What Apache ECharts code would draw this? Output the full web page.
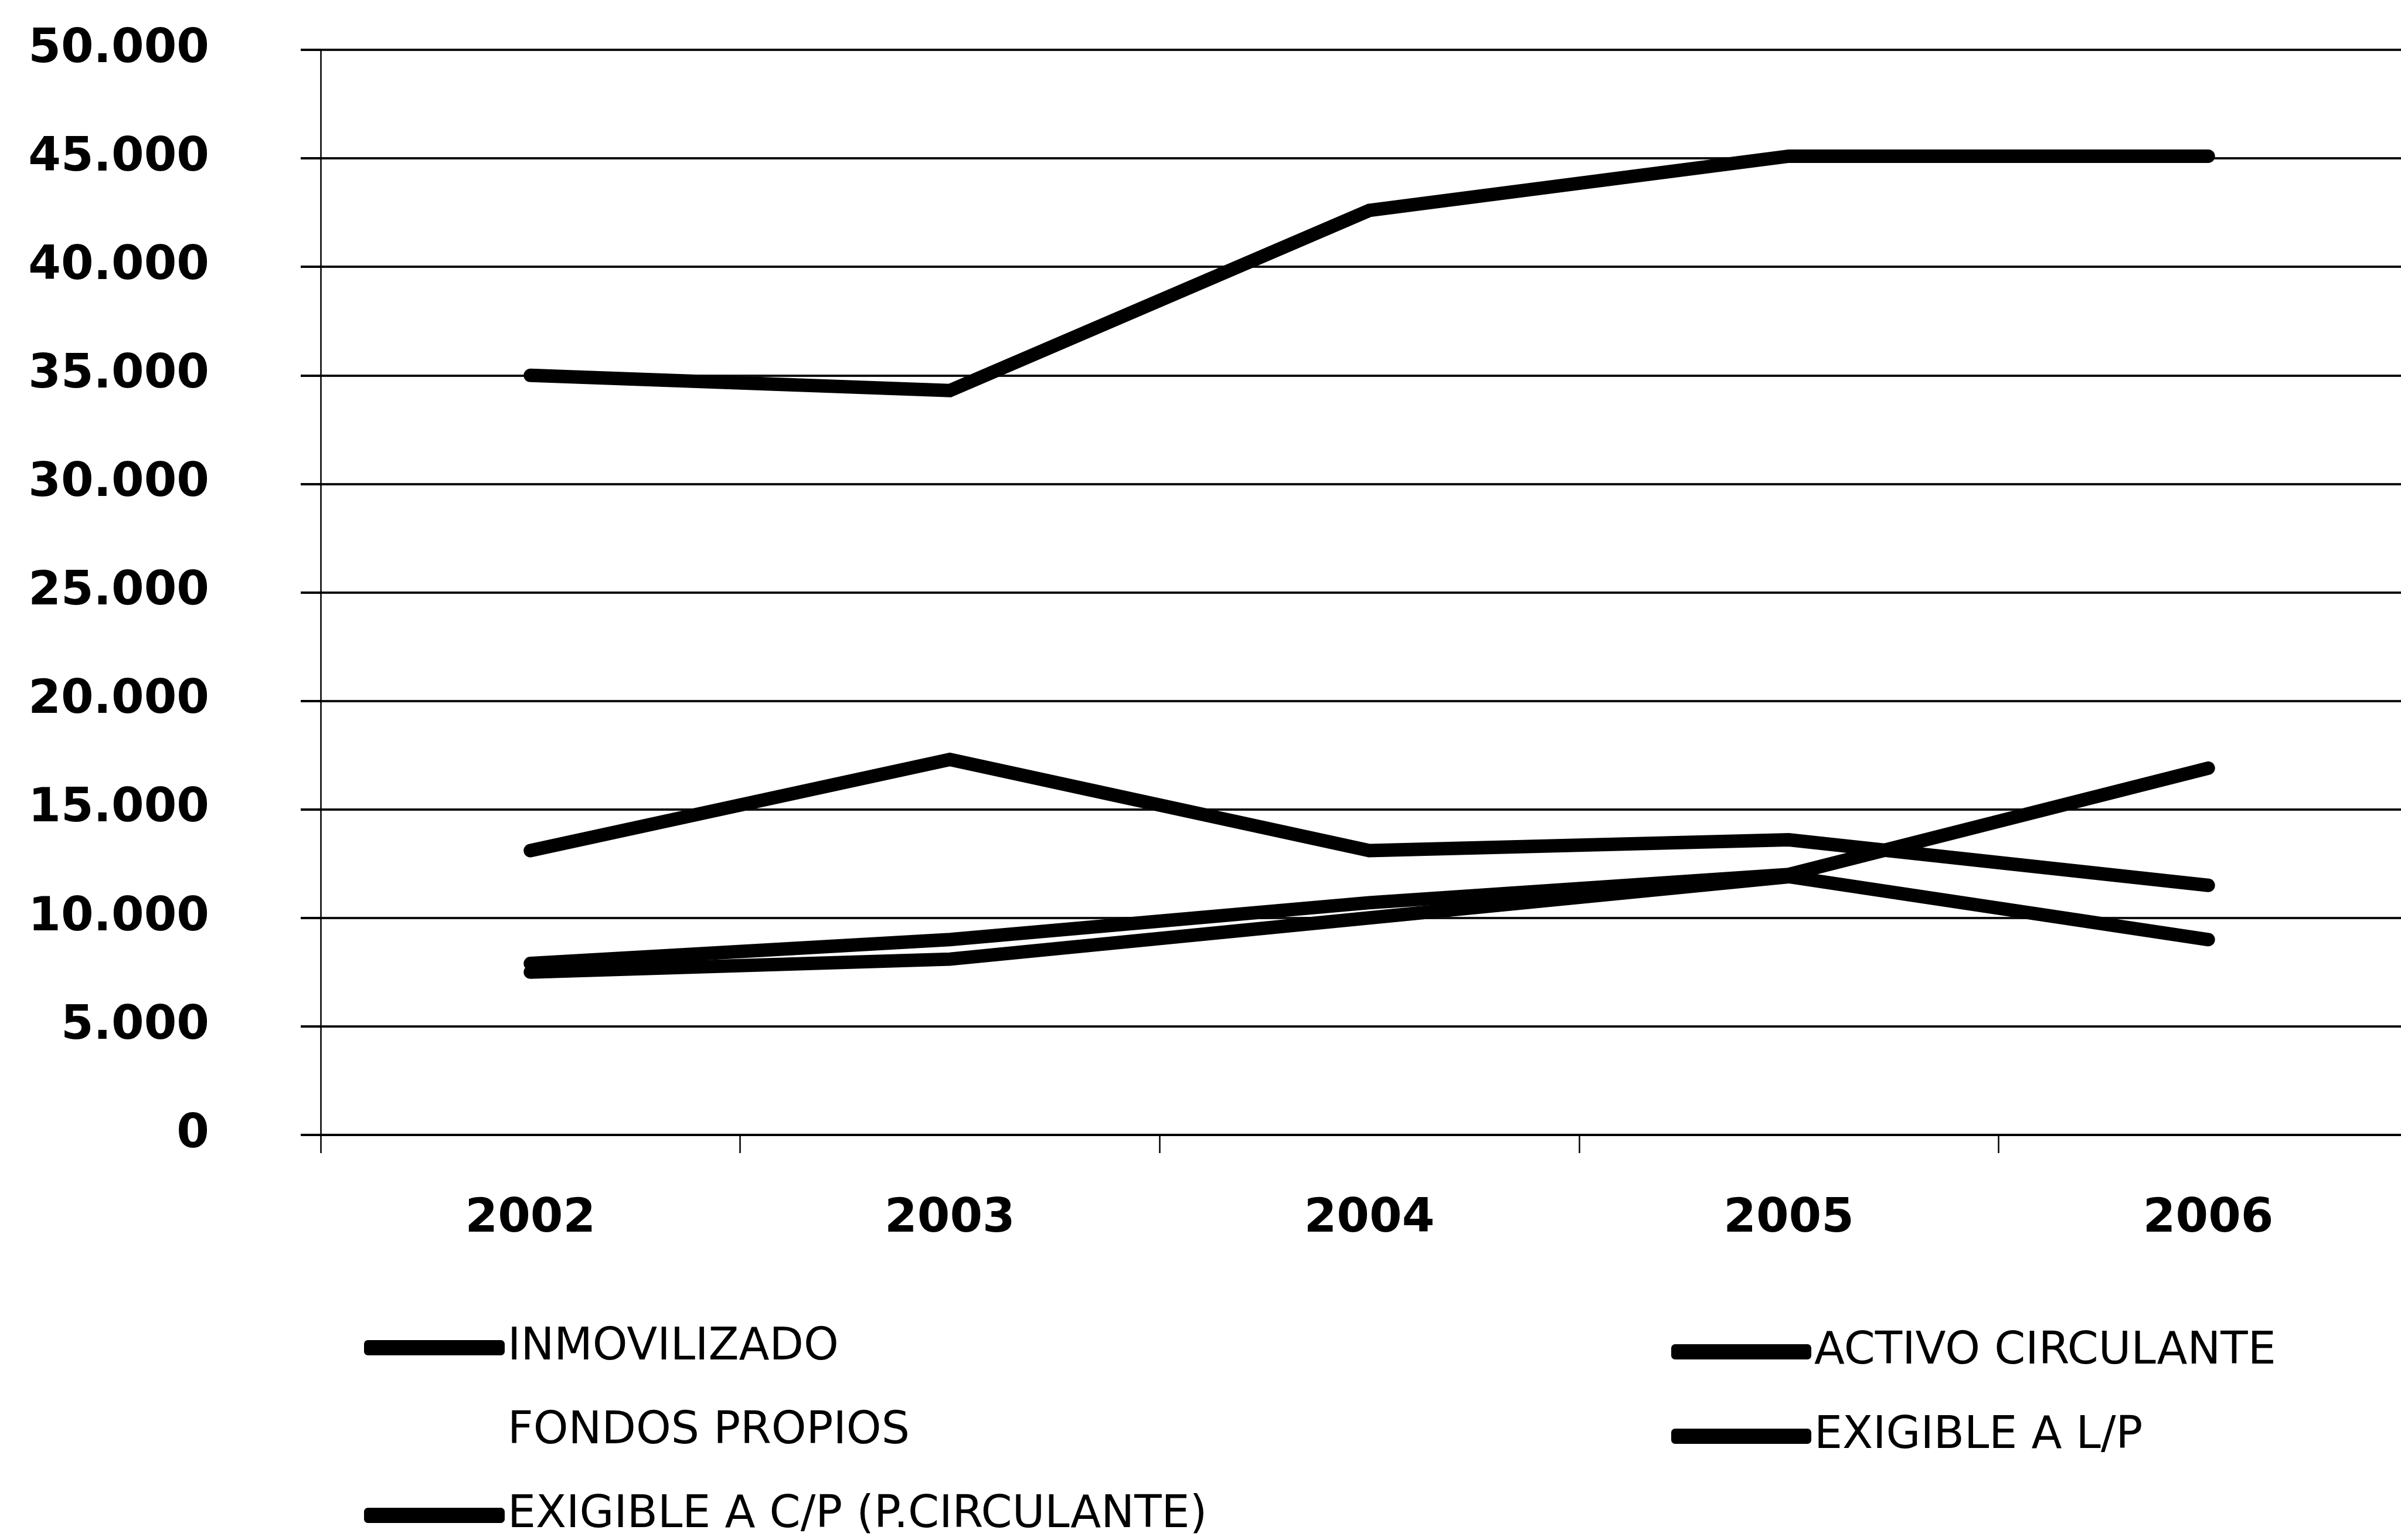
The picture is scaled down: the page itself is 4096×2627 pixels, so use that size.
<!DOCTYPE html>
<html>
<head>
<meta charset="utf-8">
<script src="https://cdn.jsdelivr.net/npm/echarts@6/dist/echarts.min.js"></script>
<style>
html,body{margin:0;padding:0;background:#fff;}
#chart{width:4096px;height:2627px;}
</style>
</head>
<body>
<div id="chart"></div>
<script>
// ---- data ----
const years = ['2002', '2003', '2004', '2005', '2006'];
const inmovilizado = [35000, 34300, 42600, 45100, 45100];
const activoCirculante = [13100, 17300, 13100, 13600, 11500];
const fondosPropios = [null, null, null, null, null]; // no visible line in the reference
const exigibleLP = [7900, 9000, 10700, 12000, 16900];
const exigibleCP = [7500, 8100, 10000, 11900, 9000];
const yTickLabels = ['0', '5.000', '10.000', '15.000', '20.000', '25.000', '30.000', '35.000', '40.000', '45.000', '50.000'];
const seriesNames = ['INMOVILIZADO', 'ACTIVO CIRCULANTE', 'FONDOS PROPIOS', 'EXIGIBLE A L/P', 'EXIGIBLE A C/P (P.CIRCULANTE)'];

const chart = echarts.init(document.getElementById('chart'), null, {renderer: 'canvas'});

const lineW = 23;
function mkSeries(name, data, color) {
  return {
    name: name,
    type: 'line',
    data: data,
    showSymbol: false,
    symbol: 'none',
    color: color,
    lineStyle: {width: lineW, color: color, cap: 'round', join: 'miter'},
    emphasis: {disabled: true},
    z: 5
  };
}

const legendText = {fontFamily: 'DejaVu Sans', fontSize: 76, color: '#000', lineHeight: 80};

const option = {
  backgroundColor: '#fff',
  animation: false,
  grid: {left: 547, width: 3578, top: 85, bottom: 691, containLabel: false, outerBoundsMode: 'none'},
  xAxis: {
    type: 'category',
    data: years,
    boundaryGap: true,
    axisLine: {show: true, lineStyle: {color: '#000', width: 4}},
    axisTick: {show: true, length: 31, lineStyle: {color: '#000', width: 2.5}},
    axisLabel: {margin: 104, fontFamily: 'DejaVu Sans', fontWeight: 'bold', fontSize: 80, color: '#000'},
    splitLine: {show: false}
  },
  yAxis: {
    type: 'value',
    min: 0,
    max: 50000,
    interval: 5000,
    axisLine: {show: true, lineStyle: {color: '#000', width: 2.5}},
    axisTick: {show: true, length: 34, lineStyle: {color: '#000', width: 4}},
    axisLabel: {
      margin: 190,
      fontFamily: 'DejaVu Sans', fontWeight: 'bold', fontSize: 80, color: '#000',
      formatter: function (v) { return yTickLabels[Math.round(v / 5000)]; }
    },
    splitLine: {show: true, lineStyle: {color: '#111', width: 4}}
  },
  legend: [
    {
      orient: 'vertical',
      left: 621, top: 2259,
      padding: 0,
      itemGap: 63,
      itemWidth: 240, itemHeight: 26,
      icon: 'roundRect',
      selectedMode: false,
      textStyle: legendText,
      data: [seriesNames[0], seriesNames[2], seriesNames[4]]
    },
    {
      orient: 'vertical',
      left: 2851, top: 2266,
      padding: 0,
      itemGap: 64,
      itemWidth: 239, itemHeight: 26,
      icon: 'roundRect',
      selectedMode: false,
      textStyle: legendText,
      data: [seriesNames[1], seriesNames[3]]
    }
  ],
  series: [
    mkSeries(seriesNames[0], inmovilizado, '#000'),
    mkSeries(seriesNames[1], activoCirculante, '#000'),
    mkSeries(seriesNames[2], fondosPropios, 'rgba(255,255,255,0)'),
    mkSeries(seriesNames[3], exigibleLP, '#000'),
    mkSeries(seriesNames[4], exigibleCP, '#000')
  ]
};
chart.setOption(option);
</script>
</body>
</html>
